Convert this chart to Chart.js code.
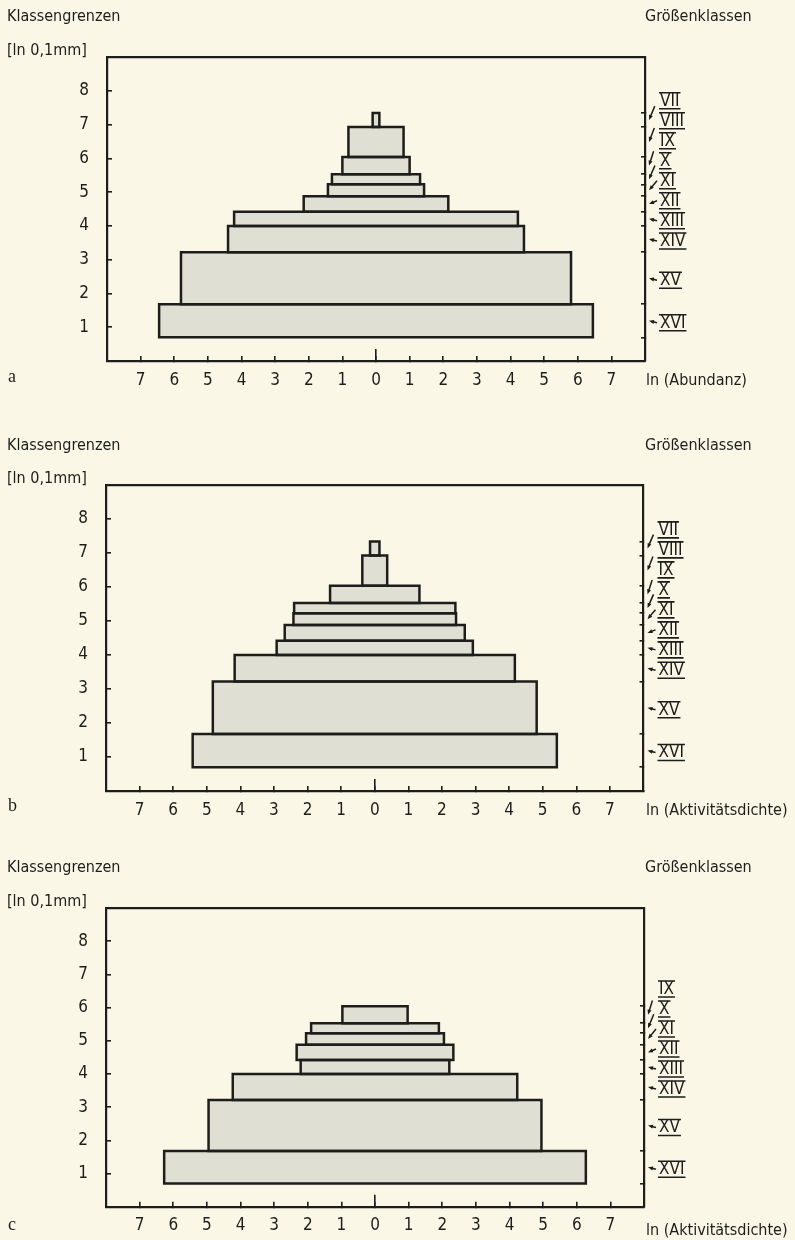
<!DOCTYPE html>
<html>
<head>
<meta charset="utf-8">
<script src="https://cdn.jsdelivr.net/npm/chart.js@4.4.1/dist/chart.umd.min.js"></script>
<style>
  body { margin: 0; background: #faf7e6; }
  #page { position: relative; width: 795px; height: 1240px; background: #faf7e6; overflow: hidden;
          font-family: "DejaVu Sans Condensed", "DejaVu Sans", sans-serif; color: #1d1d1b; }
  canvas { position: absolute; left: 0; }
  .t { position: absolute; font-size: 16px; line-height: 20px; white-space: nowrap; }
  .p { position: absolute; font-family: "Liberation Serif", "DejaVu Serif", serif; font-size: 18px; line-height: 18px; }
</style>
</head>
<body>
<div id="page">
  <canvas id="chartA" width="795" height="400" style="top:0"></canvas>
  <canvas id="chartB" width="795" height="400" style="top:430px"></canvas>
  <canvas id="chartC" width="795" height="390" style="top:850px"></canvas>

  <div class="t" style="left:7px;top:6px">Klassengrenzen</div>
  <div class="t" style="left:7px;top:40px">[ln 0,1mm]</div>
  <div class="t" style="left:645px;top:6px">Größenklassen</div>
  <div class="p" style="left:8px;top:367px">a</div>
  <div class="t" style="left:646px;top:370px">ln (Abundanz)</div>

  <div class="t" style="left:7px;top:435px">Klassengrenzen</div>
  <div class="t" style="left:7px;top:468px">[ln 0,1mm]</div>
  <div class="t" style="left:645px;top:435px">Größenklassen</div>
  <div class="p" style="left:8px;top:796px">b</div>
  <div class="t" style="left:646px;top:800px">ln (Aktivitätsdichte)</div>

  <div class="t" style="left:7px;top:857px">Klassengrenzen</div>
  <div class="t" style="left:7px;top:891px">[ln 0,1mm]</div>
  <div class="t" style="left:645px;top:857px">Größenklassen</div>
  <div class="p" style="left:8px;top:1215px">c</div>
  <div class="t" style="left:646px;top:1220px">ln (Aktivitätsdichte)</div>
</div>

<script>
// size classes from the smallest (XVI, bottom) upwards
var sizeClasses = ['XVI', 'XV', 'XIV', 'XIII', 'XII', 'XI', 'X', 'IX', 'VIII', 'VII'];
// class boundaries, ln 0,1 mm
var classBounds = [0.70, 1.68, 3.22, 4.00, 4.42, 4.88, 5.23, 5.53, 6.04, 6.93, 7.34];

// a: ln (Abundanz), b and c: ln (Aktivitätsdichte); half widths per class
var lnAbundanzA = [6.45, 5.80, 4.40, 4.22, 2.15, 1.43, 1.31, 1.00, 0.82, 0.10];
var lnAktivB    = [5.42, 4.82, 4.17, 2.92, 2.68, 2.42, 2.40, 1.33, 0.37, 0.14];
var lnAktivC    = [6.27, 4.95, 4.23, 2.21, 2.33, 2.05, 1.90, 0.97];

var xTickValues = [-7, -6, -5, -4, -3, -2, -1, 0, 1, 2, 3, 4, 5, 6, 7];
var yTickValues = [1, 2, 3, 4, 5, 6, 7, 8];

var INK  = '#1d1d1b';
var FILL = '#e0dfd4';
var FONT = '"DejaVu Sans Condensed", "DejaVu Sans", sans-serif';

function boxData(w, lo, hi) {
    return [{x: -w, y: lo}, {x: w, y: lo}, {x: w, y: hi}, {x: -w, y: hi}, {x: -w, y: lo}];
}

// Roman numeral labels with over/underline and small arrows to the class
var classLabels = {
    id: 'classLabels',
    afterDraw: function (chart, args, opts) {
        var ctx = chart.ctx, ys = chart.scales.y, area = chart.chartArea;
        var lx = area.right + 15;
        var prev = Infinity;
        ctx.save();
        ctx.font = '17px ' + FONT;
        ctx.fillStyle = INK;
        ctx.strokeStyle = INK;
        ctx.textBaseline = 'middle';
        for (var i = 0; i < opts.count; i++) {
            var mid = ys.getPixelForValue((classBounds[i] + classBounds[i + 1]) / 2);
            var ly = Math.min(mid + 2, prev - 20);
            prev = ly;
            var txt = sizeClasses[i];
            var tw = ctx.measureText(txt).width;
            ctx.fillText(txt, lx, ly + 0.5);
            ctx.lineWidth = 1.6;
            ctx.beginPath();
            ctx.moveTo(lx - 1, ly - 8); ctx.lineTo(lx + tw + 1, ly - 8);
            ctx.moveTo(lx - 1, ly + 8); ctx.lineTo(lx + tw + 1, ly + 8);
            ctx.stroke();

            // arrow
            var tipX = area.right + 4, tipY = mid;
            var dx = (lx - 3) - tipX, dy = ly - tipY;
            var len = Math.sqrt(dx * dx + dy * dy);
            var L = Math.min(len, 15);
            var ux = dx / len, uy = dy / len;
            ctx.lineWidth = 1.5;
            ctx.beginPath();
            ctx.moveTo(tipX + ux * L, tipY + uy * L);
            ctx.lineTo(tipX + ux * 3, tipY + uy * 3);
            ctx.stroke();
            ctx.beginPath();
            ctx.moveTo(tipX, tipY);
            ctx.lineTo(tipX + ux * 5 - uy * 2, tipY + uy * 5 + ux * 2);
            ctx.lineTo(tipX + ux * 5 + uy * 2, tipY + uy * 5 - ux * 2);
            ctx.closePath();
            ctx.fill();
        }
        ctx.restore();
    }
};

function pyramid(id, values, canvasH, plotTop, plotBottom, plotLeft, plotRight) {
    var n = values.length;
    var datasets = values.map(function (w, i) {
        return {
            data: boxData(w, classBounds[i], classBounds[i + 1]),
            showLine: true,
            fill: 'shape',
            backgroundColor: FILL,
            borderColor: INK,
            borderWidth: 2.5,
            borderJoinStyle: 'miter',
            borderCapStyle: 'square',
            pointRadius: 0,
            tension: 0
        };
    });
    var bounds = classBounds.slice(0, n + 1);

    return new Chart(document.getElementById(id), {
        type: 'scatter',
        data: { datasets: datasets },
        options: {
            responsive: false,
            animation: false,
            events: [],
            layout: { padding: { top: plotTop, left: 0, right: 0, bottom: 0 } },
            plugins: {
                legend: { display: false },
                tooltip: { enabled: false },
                filler: { drawTime: 'beforeDatasetsDraw' },
                classLabels: { count: n }
            },
            scales: {
                x: {
                    type: 'linear', position: 'bottom', min: -8, max: 8,
                    afterBuildTicks: function (s) { s.ticks = xTickValues.map(function (v) { return {value: v}; }); },
                    afterFit: function (s) { s.height = canvasH - plotBottom; },
                    ticks: { color: INK, font: { family: FONT, size: 17 }, padding: 14, maxRotation: 0, autoSkip: false,
                             callback: function (v) { return Math.abs(v); } },
                    grid: { drawOnChartArea: false, tickLength: -5, color: INK, lineWidth: 1.6 },
                    border: { display: true, color: INK, width: 2.2 }
                },
                x0: {
                    type: 'linear', position: 'bottom', min: -8, max: 8, weight: -1,
                    afterBuildTicks: function (s) { s.ticks = [{value: 0}]; },
                    afterFit: function (s) { s.height = 0; },
                    ticks: { display: false },
                    grid: { drawOnChartArea: false, tickLength: -12, color: INK, lineWidth: 1.6 },
                    border: { display: false }
                },
                xT: {
                    type: 'linear', position: 'top', min: -8, max: 8,
                    afterFit: function (s) { s.height = 0; },
                    ticks: { display: false },
                    grid: { display: false },
                    border: { display: true, color: INK, width: 2.2 }
                },
                y: {
                    type: 'linear', position: 'left', min: 0, max: 9,
                    afterBuildTicks: function (s) { s.ticks = yTickValues.map(function (v) { return {value: v}; }); },
                    afterFit: function (s) { s.width = plotLeft; },
                    ticks: { color: INK, font: { family: FONT, size: 17 }, padding: 23 },
                    grid: { drawOnChartArea: false, tickLength: -5, color: INK, lineWidth: 1.6 },
                    border: { display: true, color: INK, width: 2.2 }
                },
                yR: {
                    type: 'linear', position: 'right', min: 0, max: 9,
                    afterBuildTicks: function (s) { s.ticks = bounds.map(function (v) { return {value: v}; }); },
                    afterFit: function (s) { s.width = 795 - plotRight; },
                    ticks: { display: false },
                    grid: { drawOnChartArea: false, tickLength: -4, color: INK, lineWidth: 1.6 },
                    border: { display: true, color: INK, width: 2.2 }
                }
            }
        },
        plugins: [classLabels]
    });
}

pyramid('chartA', lnAbundanzA, 400, 57, 361, 107, 645);
pyramid('chartB', lnAktivB, 400, 55, 361, 106, 643.5);
pyramid('chartC', lnAktivC, 390, 58, 362.5, 106, 644);
</script>
</body>
</html>
